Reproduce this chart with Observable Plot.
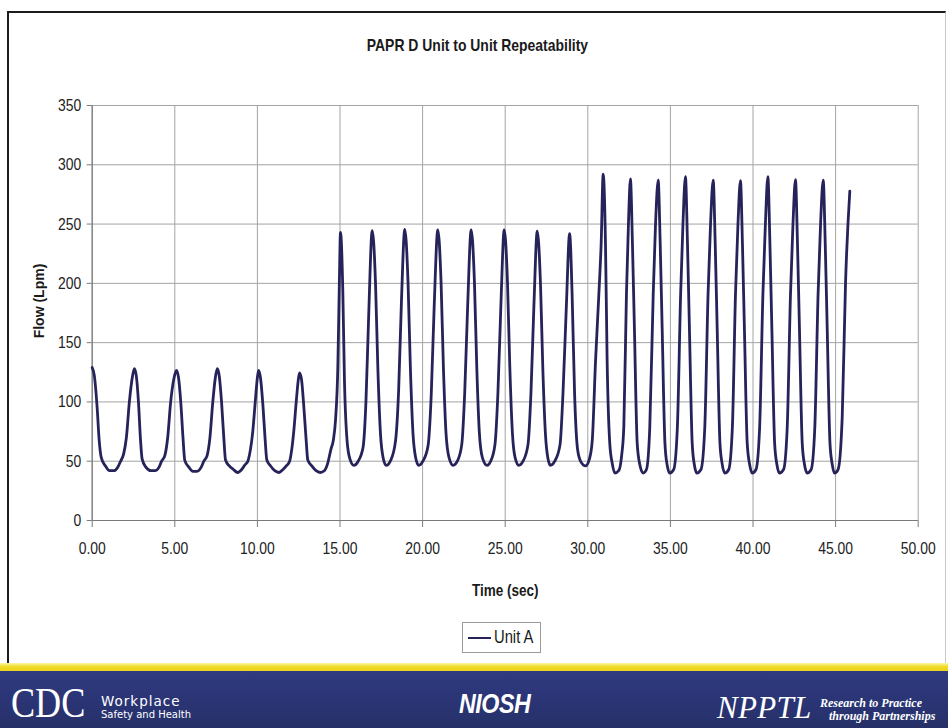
<!DOCTYPE html>
<html>
<head>
<meta charset="utf-8">
<script src="https://cdn.jsdelivr.net/npm/d3@7"></script>
<script src="https://cdn.jsdelivr.net/npm/@observablehq/plot@0.6"></script>
<style>
  html, body { margin: 0; padding: 0; background: #fff; }
  #slide { position: relative; width: 948px; height: 728px; overflow: hidden; background: #fff;
           font-family: "Liberation Sans", Arial, sans-serif; }
  #frame { position: absolute; left: 7px; top: 11px; width: 936px; height: 654px;
           border-left: 2px solid #1c1c1c; border-top: 2px solid #1c1c1c; border-right: 1px solid #c8c8c8; }
  #title { position: absolute; left: 0; width: 955px; top: 36px; text-align: center;
           font-weight: bold; font-size: 17px; color: #1a1a1a; transform: scaleX(0.82); transform-origin: 477px 0; }
  #chart { position: absolute; left: 0; top: 95px; }
  #legend { position: absolute; left: 462px; top: 622px; width: 77px; height: 29px;
            border: 1px solid #9a9a9a; background: #fff; }
  #legend .swatch { position: absolute; left: 5px; top: 14px; width: 23px; height: 0;
                    border-top: 2.6px solid #25235a; }
  #legend .lbl { position: absolute; left: 31px; top: 4px; font-size: 18px; line-height: 1.15; color: #1a1a1a;
                 white-space: nowrap; transform: scaleX(0.82); transform-origin: left top; }
  #yellow { position: absolute; left: 0; top: 663px; width: 948px; height: 8px;
            background: linear-gradient(#fbf6a8, #efdc2a 45%, #e9d21e); }
  #band { position: absolute; left: 0; top: 671px; width: 948px; height: 57px;
          background: linear-gradient(#2f3a80, #2a3473 60%, #263067); color: #fff; }
  #band div { line-height: 1; white-space: nowrap; }
  #band .cdc { position: absolute; left: 11px; top: 11px; font-family: "Liberation Serif", serif; font-size: 42px;
               transform: scaleX(0.86); transform-origin: left top; }
  .wp1 { position: absolute; left: 101px; top: 24px; font-family: "DejaVu Sans", sans-serif; font-size: 13.5px; letter-spacing: 1px; }
  .wp2 { position: absolute; left: 101px; top: 39px; font-family: "DejaVu Sans", sans-serif; font-size: 10px; }
  .niosh { position: absolute; left: 459px; top: 20px; font-family: "Liberation Sans", Arial, sans-serif; font-weight: bold;
           font-style: italic; font-size: 27px; letter-spacing: -0.5px; transform: scaleX(0.86); transform-origin: left top; }
  .npptl { position: absolute; left: 717px; top: 21px; font-family: "Liberation Serif", serif; font-style: italic;
           font-size: 31px; letter-spacing: 0.3px; }
  .rp1 { position: absolute; left: 820px; top: 26px; font-family: "Liberation Serif", serif; font-style: italic; font-weight: bold; font-size: 12px; }
  .rp2 { position: absolute; left: 829px; top: 39px; font-family: "Liberation Serif", serif; font-style: italic; font-weight: bold; font-size: 12px; }
</style>
</head>
<body>
<div id="slide">
  <div id="frame"></div>
  <div id="title">PAPR D Unit to Unit Repeatability</div>
  <div id="chart"></div>
  <div id="legend"><div class="swatch"></div><div class="lbl">Unit A</div></div>
  <div id="yellow"></div>
  <div id="band">
    <div class="cdc">CDC</div>
    <div class="wp1">Workplace</div>
    <div class="wp2">Safety and Health</div>
    <div class="niosh">NIOSH</div>
    <div class="npptl">NPPTL</div>
    <div class="rp1">Research to Practice</div>
    <div class="rp2">through Partnerships</div>
  </div>
</div>
<script>
// Flow trace of Unit A: time (s) and flow (L/min) sampled along the waveform.
const timeSec = [
  0.00, 0.12, 0.30, 0.42, 0.55, 0.80, 1.05, 1.30, 1.55, 1.72, 1.90, 2.07, 2.25, 2.42,
  2.55, 2.67, 2.80, 2.92, 3.02, 3.25, 3.55, 3.80, 4.05, 4.20, 4.40, 4.57, 4.75, 4.95,
  5.10, 5.22, 5.36, 5.50, 5.60, 5.85, 6.10, 6.35, 6.60, 6.76, 6.96, 7.12, 7.30, 7.45,
  7.57, 7.69, 7.83, 7.97, 8.07, 8.30, 8.55, 8.80, 9.05, 9.25, 9.42, 9.58, 9.72, 9.87, 9.98,
  10.07, 10.19, 10.33, 10.47, 10.57, 10.80, 11.05, 11.30, 11.55, 11.75, 11.95, 12.08, 12.20, 12.35, 12.47,
  12.55, 12.67, 12.80, 12.95, 13.05, 13.30, 13.55, 13.80, 14.05, 14.25, 14.45, 14.60, 14.73, 14.87, 14.96,
  15.03, 15.17, 15.27, 15.43, 15.60, 15.84, 16.10, 16.40, 16.57, 16.73,
  16.95, 17.15, 17.29, 17.45, 17.61, 17.80, 18.06, 18.36, 18.55, 18.72,
  18.92, 19.12, 19.26, 19.42, 19.58, 19.77, 20.02, 20.33, 20.52, 20.70,
  20.92, 21.12, 21.26, 21.42, 21.60, 21.85, 22.10, 22.37, 22.55, 22.73,
  22.94, 23.14, 23.28, 23.44, 23.62, 23.90, 24.12, 24.38, 24.56, 24.74,
  24.94, 25.14, 25.28, 25.44, 25.60, 25.83, 26.08, 26.38, 26.56, 26.74,
  26.94, 27.14, 27.28, 27.44, 27.58, 27.74, 28.00, 28.32, 28.50, 28.70,
  28.90, 29.05, 29.20, 29.39, 29.60, 29.86, 30.10, 30.27, 30.47, 30.67, 30.81,
  30.93, 31.07, 31.17, 31.33, 31.48, 31.64, 31.87, 32.05, 32.18, 32.34, 32.46,
  32.58, 32.70, 32.82, 32.99, 33.15, 33.35, 33.55, 33.75, 33.96, 34.10,
  34.26, 34.38, 34.50, 34.67, 34.80, 34.96, 35.20, 35.42, 35.62, 35.76,
  35.91, 36.03, 36.15, 36.32, 36.45, 36.60, 36.85, 37.08, 37.28, 37.43,
  37.59, 37.71, 37.83, 38.00, 38.13, 38.30, 38.53, 38.75, 38.94, 39.09,
  39.24, 39.36, 39.48, 39.65, 39.80, 39.95, 40.18, 40.40, 40.60, 40.75,
  40.90, 41.02, 41.14, 41.31, 41.45, 41.60, 41.85, 42.07, 42.27, 42.42,
  42.57, 42.69, 42.81, 42.98, 43.12, 43.28, 43.52, 43.74, 43.94, 44.09,
  44.25, 44.37, 44.49, 44.66, 44.80, 44.93, 45.15, 45.40, 45.60, 45.86
];
const flowLpm = [
  129, 123, 95, 68, 53, 46, 42, 42, 45, 50, 56, 70, 100, 120,
  128, 122, 100, 69, 52, 45, 42, 42, 45, 50, 55, 70, 100, 120,
  126.5, 121, 100, 69, 51, 45, 41.5, 41.5, 45, 50, 55, 69, 100, 120,
  128, 122, 100, 69, 51, 46, 43, 40.5, 43, 47, 50, 60, 75, 100, 118,
  126.5, 120, 98, 68, 51, 46, 42, 40.5, 43, 46, 50, 60, 75, 100, 118,
  124.5, 119, 98, 68, 51, 46, 42, 40.5, 42, 48, 60, 68, 85, 130, 200,
  243, 194, 118, 67, 52, 46.5, 50, 62, 100, 170,
  244.5, 200, 129, 73, 53, 46.5, 50.5, 67, 110, 185,
  245.5, 200, 129, 73, 53, 46.5, 50, 63, 105, 180,
  245, 200, 129, 73, 53, 46.5, 50, 64, 108, 182,
  245, 200, 129, 73, 53, 46.5, 50, 64, 108, 182,
  245, 200, 129, 73, 53, 46.5, 50, 64, 108, 182,
  244, 198, 127, 72, 53, 46.5, 50, 64, 108, 180,
  242, 191, 107, 59, 49, 46, 52, 67.5, 135, 191, 234,
  292, 234, 135, 65, 48, 40, 42, 55, 79, 191, 250,
  288, 235, 163, 65, 47, 40, 43, 78, 191, 250,
  287, 235, 163, 65, 47, 40, 43, 78, 191, 250,
  290, 236, 163, 65, 47, 40, 43, 78, 191, 250,
  287, 235, 163, 65, 48, 40, 43, 78, 191, 250,
  286.7, 234, 162, 65, 47, 40, 43, 78, 191, 250,
  290, 236, 163, 65, 47, 40, 43, 78, 191, 250,
  287.5, 235, 163, 65, 47, 40, 43, 78, 191, 250,
  287, 235, 163, 65, 47, 40, 43, 87, 199.6, 277.7
];
const xTicks = [0, 5, 10, 15, 20, 25, 30, 35, 40, 45, 50];
const yTicks = [0, 50, 100, 150, 200, 250, 300, 350];
const seriesName = "Unit A";

const samples = timeSec.map((t, i) => ({t, flow: flowLpm[i], series: seriesName}));

const chart = Plot.plot({
  width: 948,
  height: 510,
  marginLeft: 91.7,
  marginRight: 30.3,
  marginTop: 10,
  marginBottom: 85,
  style: {fontFamily: "'Liberation Sans', Arial, sans-serif", fontSize: "17px", color: "#222", background: "transparent", overflow: "visible"},
  x: {domain: [0, 50]},
  y: {domain: [0, 350]},
  marks: [
    Plot.gridX(xTicks, {stroke: "#a4a4a4", strokeOpacity: 1, strokeWidth: 1}),
    Plot.gridY(yTicks, {stroke: "#a4a4a4", strokeOpacity: 1, strokeWidth: 1}),
    Plot.ruleX([0], {stroke: "#7a7a7a", strokeWidth: 1.2}),
    Plot.ruleY([0], {stroke: "#7a7a7a", strokeWidth: 1.2}),
    Plot.axisX(xTicks, {tickSize: 7, tickPadding: 14, stroke: "#7a7a7a", tickFormat: d => d.toFixed(2), label: null}),
    Plot.axisY(yTicks, {tickSize: 5, tickPadding: 6, stroke: "#7a7a7a", label: null}),
    Plot.text(["Time (sec)"], {text: d => d, frameAnchor: "bottom", lineAnchor: "middle", textAnchor: "middle", dy: 70,
      fontWeight: "bold", fontSize: 16.5, fill: "#1a1a1a"}),
    Plot.text(["Flow (Lpm)"], {text: d => d, frameAnchor: "left", lineAnchor: "middle", textAnchor: "middle",
      rotate: -90, dx: -53, dy: -12, fontWeight: "bold", fontSize: 14, fill: "#1a1a1a"}),
    Plot.line(samples, {x: "t", y: "flow", z: "series", stroke: "#25235a", strokeWidth: 2.8, curve: "monotone-x"})
  ]
});

// Condense the tick labels and the time caption horizontally (narrow type).
d3.select(chart).selectAll("text").each(function() {
  const label = this.textContent;
  const g = this.parentNode && this.parentNode.getAttribute("aria-label");
  const isTick = g === "x-axis tick label" || g === "y-axis tick label";
  if (isTick || label === "Time (sec)") {
    const tr = this.getAttribute("transform") || "";
    this.setAttribute("transform", tr + " scale(0.82,1)");
  }
});

document.getElementById("chart").appendChild(chart);
</script>
</body>
</html>
